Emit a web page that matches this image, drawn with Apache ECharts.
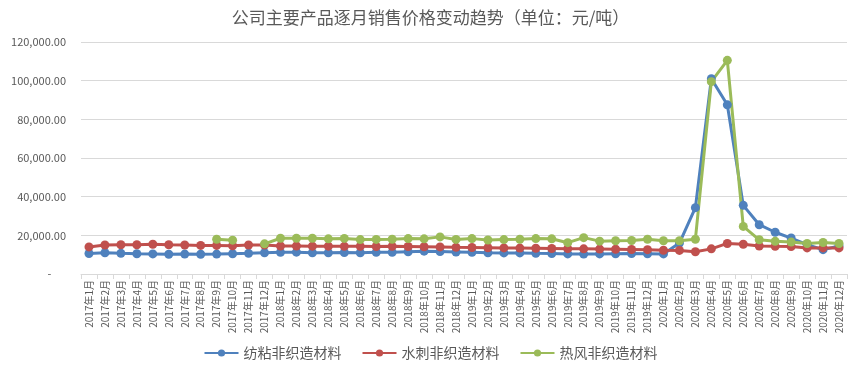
<!DOCTYPE html>
<html>
<head>
<meta charset="utf-8">
<script src="https://cdn.jsdelivr.net/npm/echarts@6/dist/echarts.min.js"></script>
<style>
	* { margin: 0; padding: 0; }
	html, body { background: #fff; }
	#main { width: 861px; height: 381px; }
</style>
</head>
<body>
<div id="main"></div>
<script>
	// 月份
	var months = [];
	[2017, 2018, 2019, 2020].forEach(function (y) {
		for (var m = 1; m <= 12; m++) months.push(y + '年' + m + '月');
	});

	var fangzhan = [
		10600, 11000, 10700, 10500, 10400, 10200, 10300, 10200, 10300, 10500, 10700, 11000,
		11200, 11300, 11000, 11000, 11100, 11000, 11200, 11200, 11500, 11800, 11600, 11400,
		11200, 11000, 10900, 10900, 10700, 10600, 10400, 10300, 10400, 10500, 10600, 10500,
		10400, 16000, 34300, 101000, 87500, 35500, 25500, 21600, 18600, 15200, 12600, 14500
	];
	var shuici = [
		14000, 15000, 15100, 15100, 15400, 15100, 15000, 14800, 14800, 14600, 15000, 15000,
		14500, 14500, 14400, 14400, 14300, 14300, 14200, 14300, 14200, 14100, 14000, 13800,
		13700, 13600, 13500, 13400, 13300, 13200, 13100, 13000, 12900, 12800, 12700, 12600,
		12300, 12200, 11500, 13000, 15800, 15400, 14500, 14300, 14200, 13500, 13500, 13500
	];
	var refeng = [
		null, null, null, null, null, null, null, null, 18000, 17500, null, 15600,
		18500, 18500, 18500, 18200, 18400, 17800, 17900, 18000, 18300, 18200, 19200, 17900,
		18300, 17600, 17800, 18000, 18300, 18200, 16200, 18800, 17000, 17200, 17300, 18000,
		17200, 17200, 18000, 99500, 110500, 24600, 17700, 16900, 16500, 15800, 16300, 15800
	];

	var font = '"Noto Sans CJK SC", "Noto Sans", sans-serif';

	function fmt(v) {
		if (v === 0) return '-      ';
		var s = v.toFixed(2).split('.');
		return s[0].replace(/\B(?=(\d{3})+(?!\d))/g, ',') + '.' + s[1];
	}

	function line(name, data, color) {
		return {
			name: name,
			type: 'line',
			data: data,
			symbol: 'circle',
			symbolSize: 9,
			connectNulls: false,
			lineStyle: { width: 3, color: color },
			itemStyle: { color: color }
		};
	}

	var chart = echarts.init(document.getElementById('main'));
	chart.setOption({
		animation: false,
		textStyle: { fontFamily: font },
		title: {
			text: '公司主要产品逐月销售价格变动趋势（单位：元/吨）',
			left: 'center',
			top: 4,
			textStyle: { fontFamily: font, fontSize: 17, fontWeight: 'normal', color: '#595959' }
		},
		legend: {
			bottom: 16,
			left: 'center',
			itemWidth: 34,
			itemHeight: 9,
			itemGap: 20,
			textStyle: { fontFamily: font, fontSize: 14, color: '#595959' },
			data: ['纺粘非织造材料', '水刺非织造材料', '热风非织造材料']
		},
		grid: { left: 81, right: 14, top: 42, bottom: 107 },
		xAxis: {
			type: 'category',
			data: months,
			boundaryGap: true,
			axisLine: { lineStyle: { color: '#d9d9d9' } },
			axisTick: { show: true, length: 5, lineStyle: { color: '#d9d9d9' } },
			axisLabel: { interval: 0, rotate: 90, fontSize: 10, color: '#595959', margin: 6, fontFamily: font }
		},
		yAxis: {
			type: 'value',
			min: 0,
			max: 120000,
			interval: 20000,
			axisLine: { show: false },
			axisTick: { show: false },
			splitLine: { lineStyle: { color: '#d9d9d9' } },
			axisLabel: { formatter: fmt, fontSize: 11, color: '#595959', margin: 15, fontFamily: font }
		},
		series: [
			line('纺粘非织造材料', fangzhan, '#4F81BD'),
			line('水刺非织造材料', shuici, '#C0504D'),
			line('热风非织造材料', refeng, '#9BBB59')
		]
	});
</script>
</body>
</html>
